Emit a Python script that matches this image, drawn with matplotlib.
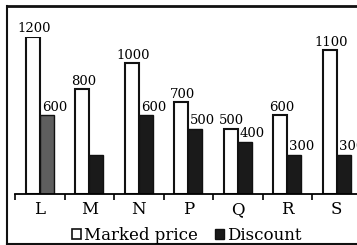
import matplotlib
matplotlib.use("Agg")
import matplotlib.pyplot as plt
from matplotlib.lines import Line2D
from matplotlib.patches import Patch

categories = ["L", "M", "N", "P", "Q", "R", "S"]
marked_price = [1200, 800, 1000, 700, 500, 600, 1100]
discount = [600, 300, 600, 500, 400, 300, 300]
marked_labels = ["1200", "800", "1000", "700", "500", "600", "1100"]
discount_labels = ["600", "", "600", "500", "400", "300", "300"]

plt.rcParams["font.family"] = ["DejaVu Serif"]

fig = plt.figure(figsize=(3.57, 2.45), dpi=100)
ax = fig.add_axes([15 / 357, 1 - 194 / 245, 346.5 / 357, 157 / 245])

w = 0.28
x = [i + 0.5 for i in range(len(categories))]
ax.bar([xi - w / 2 for xi in x], marked_price, width=w, color="white",
       edgecolor="#111111", linewidth=1.5)
disc_colors = ["#5e5e5e"] + ["#1a1a1a"] * (len(categories) - 1)
ax.bar([xi + w / 2 for xi in x], discount, width=w, color=disc_colors,
       edgecolor="#111111", linewidth=1.0)

for xi, v, lab in zip(x, marked_price, marked_labels):
    ax.text(xi - w / 2 + 0.02, v + 12, lab, ha="center", va="bottom",
            fontsize=9.5, clip_on=False)
for xi, v, lab in zip(x, discount, discount_labels):
    ax.text(xi + 0.04, v + 12, lab, ha="left", va="bottom", fontsize=9.5,
            clip_on=False)

ax.set_xlim(0, 7)
ax.set_ylim(0, 1200)
for s in ["top", "right", "left"]:
    ax.spines[s].set_visible(False)
ax.spines["bottom"].set_linewidth(1.3)
ax.set_yticks([])
ax.set_xticks(range(8))
ax.set_xticklabels([])
ax.tick_params(axis="x", which="major", length=4, width=1.2, direction="out")
ax.set_xticks(x, minor=True)
ax.set_xticklabels(categories, minor=True, fontsize=12)
ax.tick_params(axis="x", which="minor", length=0, pad=5)

# outer frame
fig.add_artist(Line2D([7 / 357, 7 / 357], [1 / 245, 1 - 6 / 245], color="#111111",
                      lw=1.5, transform=fig.transFigure))
fig.add_artist(Line2D([7 / 357, 1], [1 - 6 / 245, 1 - 6 / 245], color="#111111",
                      lw=2, transform=fig.transFigure))
fig.add_artist(Line2D([7 / 357, 1], [1 / 245, 1 / 245], color="#111111",
                      lw=1.5, transform=fig.transFigure))

handles = [Patch(facecolor="white", edgecolor="#111111", linewidth=1.2),
           Patch(facecolor="#1a1a1a", edgecolor="#111111")]
fig.legend(handles, ["Marked price", "Discount"], loc="center",
           bbox_to_anchor=(187 / 357, 1 - 235 / 245), ncol=2, frameon=False,
           fontsize=12, handlelength=0.55, handleheight=0.55, handletextpad=0.2,
           columnspacing=1.0, borderpad=0)

fig.savefig("out.png", dpi=100)
